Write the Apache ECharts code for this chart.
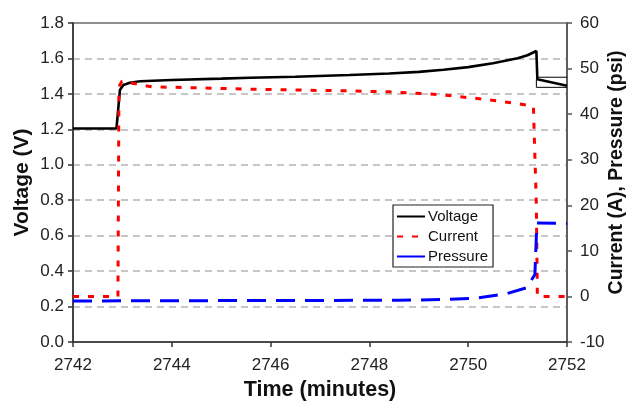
<!DOCTYPE html>
<html>
<head>
<meta charset="utf-8">
<script src="https://cdn.jsdelivr.net/npm/echarts@6/dist/echarts.min.js"></script>
<style>
  html, body { margin: 0; padding: 0; background: #fff; }
  #chart { width: 628px; height: 401px; }
</style>
</head>
<body>
<div id="chart"></div>
<script>
// Cell voltage (left axis)
const voltageTime = [2742, 2742.88, 2742.92, 2742.95, 2743.02, 2743.15, 2743.36, 2744, 2745, 2745.58, 2746.5, 2747.6, 2748.4, 2749, 2749.5, 2750, 2750.5, 2751, 2751.2, 2751.38, 2751.4, 2752];
const voltageValue = [1.205, 1.205, 1.33, 1.422, 1.450, 1.463, 1.471, 1.478, 1.486, 1.491, 1.497, 1.507, 1.515, 1.524, 1.536, 1.551, 1.573, 1.601, 1.618, 1.642, 1.483, 1.446];

// Thin voltage trace segments after the step down
const voltTraceLowTime = [2751.38, 2751.38, 2752];
const voltTraceLowValue = [1.483, 1.437, 1.437];
const voltTraceHighTime = [2751.40, 2752];
const voltTraceHighValue = [1.494, 1.494];

// Current (right axis, A)
const currentTime = [2742, 2742.91, 2742.93, 2742.99, 2743.6, 2744, 2745.5, 2747, 2747.6, 2748.4, 2749.4, 2750.3, 2751, 2751.32, 2751.38, 2751.4, 2752];
const currentValue = [0, 0, 46, 47.2, 46.0, 45.9, 45.5, 45.2, 45.1, 44.9, 44.3, 43.3, 42.3, 41.7, 20, 0, 0];

// Pressure (right axis, psi)
const pressureTime = [2742, 2745.5, 2748.6, 2749.56, 2750.17, 2750.78, 2751.18, 2751.35, 2751.39, 2752];
const pressureValue = [-1.0, -0.9, -0.85, -0.65, -0.37, 0.6, 1.9, 4.8, 16.1, 16.0];

// Axis ticks
const xTicks = { min: 2742, max: 2752, step: 2 };
const leftTicks = { min: 0, max: 1.8, step: 0.2 };
const rightTicks = { min: -10, max: 60, step: 10 };

const pairs = (xs, ys) => xs.map((x, i) => [x, ys[i]]);

const font = 'Liberation Sans, Arial, Helvetica, sans-serif';
const titleStyle = { fontFamily: font, fontSize: 21, fontWeight: 'bold', color: '#111' };
const axisLine = { show: true, onZero: false, lineStyle: { color: '#333', width: 1.5 } };
const axisTick = { show: true, length: 5, lineStyle: { color: '#333', width: 1.5 } };

const chart = echarts.init(document.getElementById('chart'), null, { renderer: 'canvas' });
chart.setOption({
  animation: false,
  backgroundColor: '#fff',
  grid: {
    left: 73, right: 61, top: 23, bottom: 59,
    containLabel: false, outerBoundsMode: 'none',
    show: true, borderColor: '#222', borderWidth: 1.2, backgroundColor: 'transparent'
  },
  xAxis: {
    type: 'value',
    min: xTicks.min, max: xTicks.max, interval: xTicks.step,
    name: 'Time (minutes)',
    nameLocation: 'middle', nameGap: 37, nameMoveOverlap: false,
    nameTextStyle: Object.assign({}, titleStyle, { fontSize: 21.5 }),
    axisLine: axisLine, axisTick: axisTick,
    axisLabel: { fontFamily: font, fontSize: 17, color: '#222', margin: 15,
      formatter: v => String(v) },
    splitLine: { show: false }
  },
  yAxis: [
    {
      type: 'value', position: 'left',
      min: leftTicks.min, max: leftTicks.max, interval: leftTicks.step,
      name: 'Voltage (V)',
      nameLocation: 'middle', nameGap: 40, nameRotate: 90, nameMoveOverlap: false,
      nameTextStyle: titleStyle,
      axisLine: axisLine, axisTick: axisTick,
      axisLabel: { fontFamily: font, fontSize: 17, color: '#222', margin: 9,
        formatter: v => v.toFixed(1) },
      splitLine: { show: true, showMinLine: false, showMaxLine: false,
        lineStyle: { color: '#b4b4b4', width: 1.5, type: [7, 5] } }
    },
    {
      type: 'value', position: 'right',
      min: rightTicks.min, max: rightTicks.max, interval: rightTicks.step,
      name: 'Current (A), Pressure (psi)',
      nameLocation: 'middle', nameGap: 40, nameRotate: 90, nameMoveOverlap: false,
      nameTextStyle: Object.assign({}, titleStyle, { fontSize: 19.5, padding: [0, 0, 0, 20] }),
      axisLine: { show: true, onZero: false, lineStyle: { color: '#555', width: 1.5 } },
      axisTick: { show: true, length: 5, lineStyle: { color: '#555', width: 1.5 } },
      axisLabel: { fontFamily: font, fontSize: 17, color: '#222', margin: 13 },
      splitLine: { show: false }
    }
  ],
  legend: {
    orient: 'vertical',
    left: 393, top: 205,
    backgroundColor: '#fff',
    borderColor: '#222', borderWidth: 1.2, borderRadius: 0,
    padding: [4, 5, 3, 3],
    itemWidth: 28, itemHeight: 14, itemGap: 5,
    itemStyle: { opacity: 0 },
    textStyle: { fontFamily: font, fontSize: 15, color: '#111', padding: [0, 0, 0, -2] },
    data: [
      { name: 'Voltage' },
      { name: 'Current' },
      { name: 'Pressure', lineStyle: { type: 'solid' } }
    ]
  },
  series: [
    {
      name: 'Voltage', type: 'line', yAxisIndex: 0,
      data: pairs(voltageTime, voltageValue),
      showSymbol: false, symbol: 'none', smooth: false,
      lineStyle: { color: '#000', width: 2.6 }, itemStyle: { color: '#000' },
      z: 3
    },
    {
      name: 'VoltageTraceLow', type: 'line', yAxisIndex: 0,
      data: pairs(voltTraceLowTime, voltTraceLowValue),
      showSymbol: false, symbol: 'none',
      lineStyle: { color: '#000', width: 1 }, z: 2
    },
    {
      name: 'VoltageTraceHigh', type: 'line', yAxisIndex: 0,
      data: pairs(voltTraceHighTime, voltTraceHighValue),
      showSymbol: false, symbol: 'none',
      lineStyle: { color: '#000', width: 1 }, z: 2
    },
    {
      name: 'Current', type: 'line', yAxisIndex: 1,
      data: pairs(currentTime, currentValue),
      showSymbol: false, symbol: 'none',
      lineStyle: { color: '#ff0000', width: 3, type: [6, 9] }, itemStyle: { color: '#ff0000' },
      z: 3
    },
    {
      name: 'Pressure', type: 'line', yAxisIndex: 1,
      data: pairs(pressureTime, pressureValue),
      showSymbol: false, symbol: 'none',
      lineStyle: { color: '#0000ff', width: 3, type: [19, 10] }, itemStyle: { color: '#0000ff' },
      z: 4
    }
  ]
});
</script>
</body>
</html>
